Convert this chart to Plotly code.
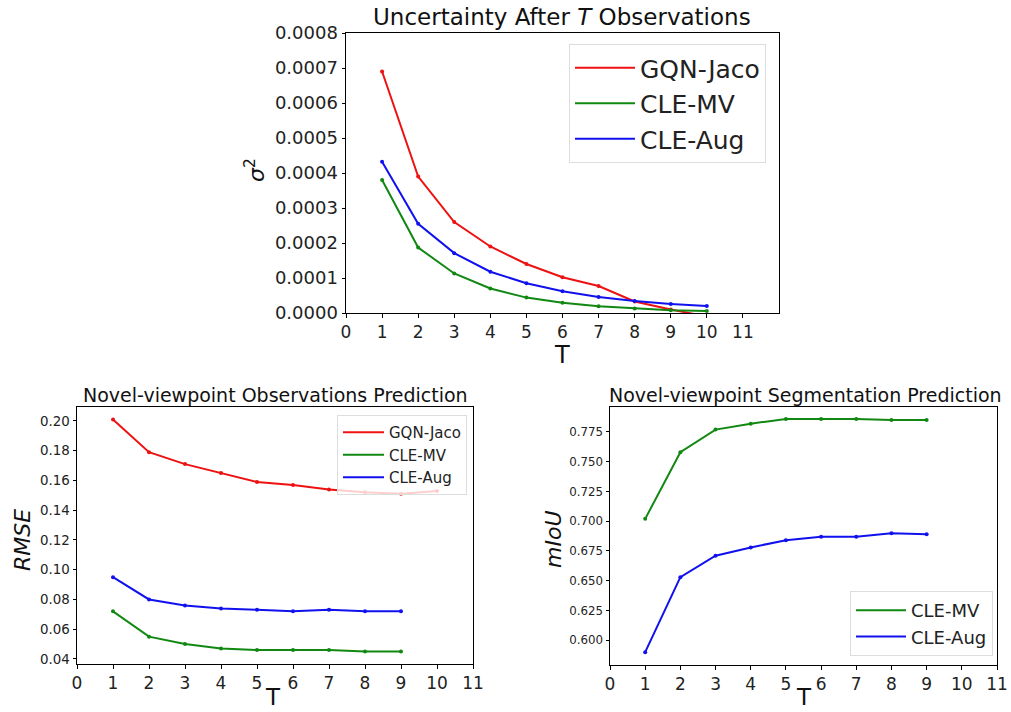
import plotly.graph_objects as go

# ---- data ----
T_top = [1, 2, 3, 4, 5, 6, 7, 8, 9, 10]
unc_gqn = [0.00069, 0.00039, 0.00026, 0.00019, 0.00014, 0.000102, 0.000077, 0.000033, 0.000010, -0.000010]
unc_mv = [0.00038, 0.000187, 0.000113, 0.00007, 0.000044, 0.000029, 0.000019, 0.000013, 0.000008, 0.000006]
unc_aug = [0.000432, 0.000255, 0.000171, 0.000118, 0.000085, 0.000062, 0.000046, 0.000034, 0.000026, 0.00002]

T_gqn = [1, 2, 3, 4, 5, 6, 7, 8, 9, 10]
T_cle = [1, 2, 3, 4, 5, 6, 7, 8, 9]
rmse_gqn = [0.201, 0.179, 0.171, 0.165, 0.159, 0.157, 0.154, 0.152, 0.151, 0.153]
rmse_mv = [0.072, 0.055, 0.050, 0.047, 0.046, 0.046, 0.046, 0.045, 0.045]
rmse_aug = [0.095, 0.080, 0.076, 0.074, 0.073, 0.072, 0.073, 0.072, 0.072]

miou_mv = [0.702, 0.758, 0.777, 0.782, 0.786, 0.786, 0.786, 0.785, 0.785]
miou_aug = [0.590, 0.653, 0.671, 0.678, 0.684, 0.687, 0.687, 0.690, 0.689]

colors = {"GQN-Jaco": "#ee1111", "CLE-MV": "#118811", "CLE-Aug": "#1111ee"}

FONT = "DejaVu Sans"
fig = go.Figure()

def add(x, y, name, xa, ya, legend):
    fig.add_trace(go.Scatter(
        x=x, y=y, name=name, mode="lines+markers",
        line=dict(color=colors[name], width=2),
        marker=dict(color=colors[name], size=4),
        xaxis=xa, yaxis=ya, showlegend=False, cliponaxis=True))
    fig.add_trace(go.Scatter(
        x=[None], y=[None], name=name, mode="lines",
        line=dict(color=colors[name], width=2),
        xaxis=xa, yaxis=ya, legend=legend, showlegend=True))

add(T_top, unc_gqn, "GQN-Jaco", "x", "y", "legend")
add(T_top, unc_mv, "CLE-MV", "x", "y", "legend")
add(T_top, unc_aug, "CLE-Aug", "x", "y", "legend")
add(T_gqn, rmse_gqn, "GQN-Jaco", "x2", "y2", "legend2")
add(T_cle, rmse_mv, "CLE-MV", "x2", "y2", "legend2")
add(T_cle, rmse_aug, "CLE-Aug", "x2", "y2", "legend2")
add(T_cle, miou_mv, "CLE-MV", "x3", "y3", "legend3")
add(T_cle, miou_aug, "CLE-Aug", "x3", "y3", "legend3")

W, H = 1011, 712
def px(v):
    return v / W
def py(v):
    return 1 - v / H

axis_common = dict(showline=True, linecolor="black", linewidth=1, mirror=True,
                   ticks="outside", ticklen=3.5, tickcolor="black", showgrid=False,
                   zeroline=False, automargin=False)

fig.update_layout(
    width=W, height=H, margin=dict(l=0, r=0, t=0, b=0, autoexpand=False),
    paper_bgcolor="white", plot_bgcolor="white",
    font=dict(family=FONT, color="#222222"),
    xaxis=dict(domain=[px(346), px(779)], range=[0, 12], tickvals=list(range(0, 12)),
               tickfont=dict(size=17), anchor="y", **axis_common),
    yaxis=dict(domain=[py(313), py(33)], range=[0, 0.0008], dtick=0.0001, tickformat=".4f",
               tickfont=dict(size=18), anchor="x", **axis_common),
    xaxis2=dict(domain=[px(77), px(473)], range=[0, 11], tickvals=list(range(0, 12)),
                tickfont=dict(size=17), anchor="y2", **axis_common),
    yaxis2=dict(domain=[py(664), py(407)], range=[0.0366, 0.2094], dtick=0.02, tickformat=".2f",
                tickfont=dict(size=13.4), anchor="x2", **axis_common),
    xaxis3=dict(domain=[px(610), px(997)], range=[0, 11], tickvals=list(range(0, 12)),
                tickfont=dict(size=17), anchor="y3", **axis_common),
    yaxis3=dict(domain=[py(665), py(407)], range=[0.5792, 0.796], dtick=0.025, tickformat=".3f",
                tickfont=dict(size=11.8), anchor="x3", **axis_common),
    legend=dict(x=px(766), y=py(44), xanchor="right", yanchor="top",
                font=dict(size=25), bordercolor="#dddddd", borderwidth=1,
                bgcolor="rgba(255,255,255,0.8)", itemwidth=60, tracegroupgap=0),
    legend2=dict(x=px(467), y=py(415), xanchor="right", yanchor="top",
                 font=dict(size=15), bordercolor="#dddddd", borderwidth=1,
                 bgcolor="rgba(255,255,255,0.8)", itemwidth=41),
    legend3=dict(x=px(993), y=py(656), xanchor="right", yanchor="bottom",
                 font=dict(size=18), bordercolor="#dddddd", borderwidth=1,
                 bgcolor="rgba(255,255,255,0.8)", itemwidth=50),
    showlegend=True,
)

def ann(text, x, y, size, angle=0, yanchor="middle"):
    fig.add_annotation(text=text, x=px(x), y=py(y), xref="paper", yref="paper",
                       showarrow=False, textangle=angle, font=dict(size=size, family=FONT, color="#111111"),
                       xanchor="center", yanchor=yanchor)

ann("Uncertainty After <i>T</i> Observations", 562, 17, 23)
ann("Novel-viewpoint Observations Prediction", 275, 395, 19)
ann("Novel-viewpoint Segmentation Prediction", 805, 395, 19)
ann("T", 562, 355, 24)
ann("T", 273, 712, 23, yanchor="bottom")
ann("T", 804, 712, 23, yanchor="bottom")
ann("<i>σ</i><sup>2</sup>", 255, 170, 22, -90)
ann("<i>RMSE</i>", 22, 540, 22, -90)
ann("<i>mIoU</i>", 553, 540, 22, -90)

fig.write_html("out.html", config={"displayModeBar": False},
               post_script="document.body.style.margin='0px';document.body.style.overflow='hidden';")
